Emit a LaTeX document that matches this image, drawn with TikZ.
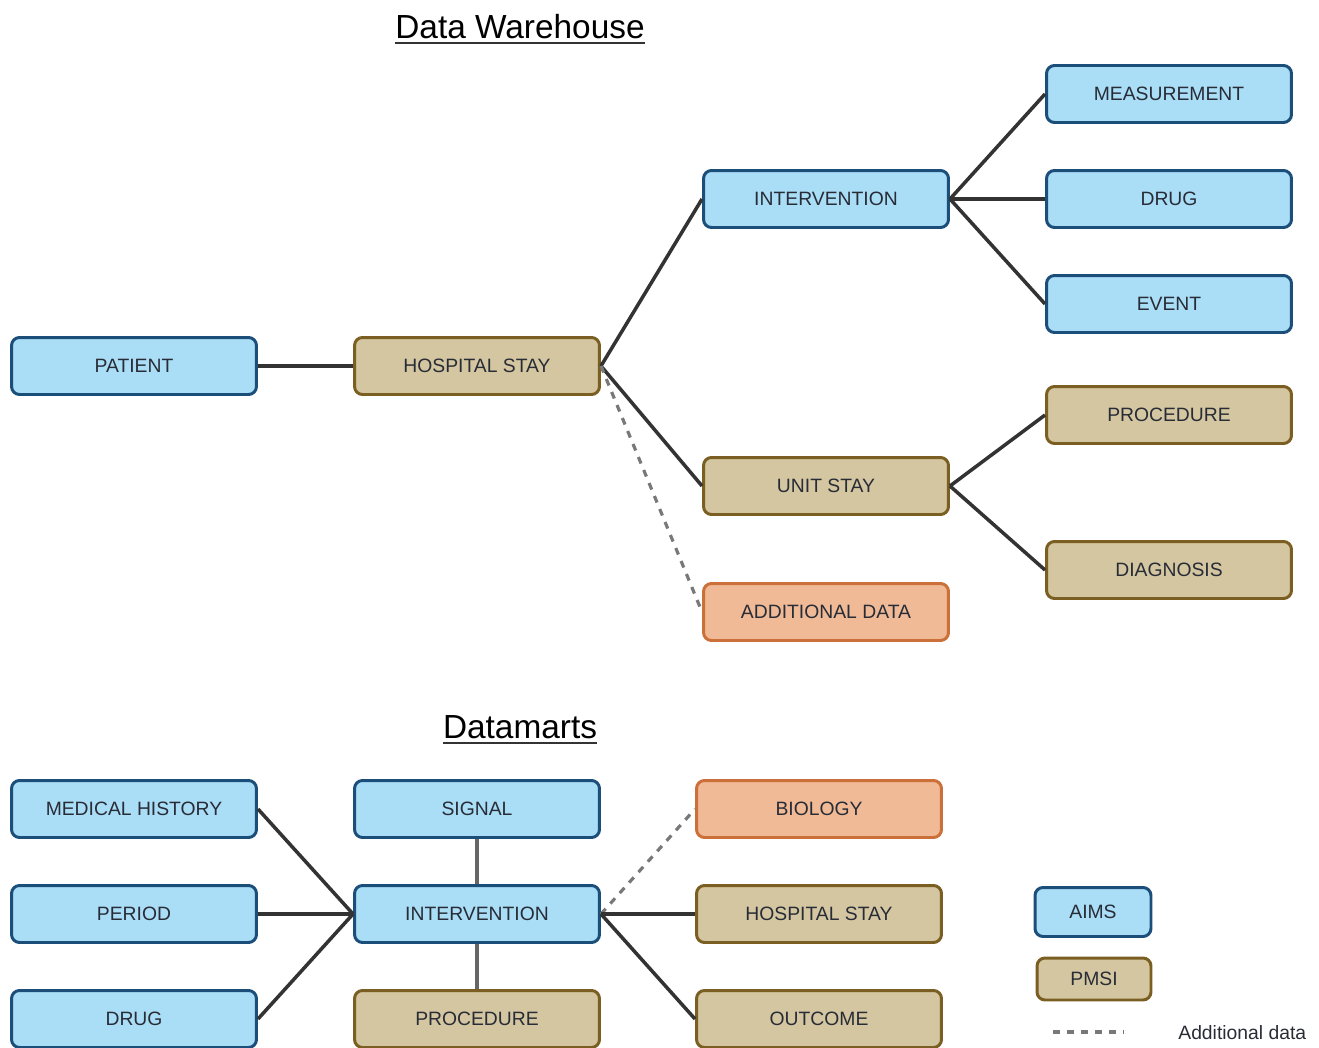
\documentclass[tikz,border=0pt]{standalone}
\usepackage{fontspec}
\setmainfont{Liberation Sans}
\definecolor{AimsFill}{RGB}{170,221,246}
\definecolor{AimsBorder}{RGB}{28,78,122}
\definecolor{PmsiFill}{RGB}{212,198,160}
\definecolor{PmsiBorder}{RGB}{122,94,34}
\definecolor{ExtraFill}{RGB}{240,186,150}
\definecolor{ExtraBorder}{RGB}{204,112,58}
\definecolor{LinkColor}{RGB}{51,51,51}
\definecolor{DashColor}{RGB}{120,120,120}
\definecolor{TextColor}{RGB}{40,44,54}
\usepackage{tikz}
\tikzstyle{tablebox} = [rectangle, rounded corners=0.16cm, line width=1.7pt, minimum width=4.9cm, minimum height=1.14cm, font=\fontsize{11}{13}\selectfont, text=TextColor]
\tikzstyle{aimsbox} = [tablebox, draw=AimsBorder, fill=AimsFill]
\tikzstyle{pmsibox} = [tablebox, draw=PmsiBorder, fill=PmsiFill]
\tikzstyle{extrabox} = [tablebox, draw=ExtraBorder, fill=ExtraFill]
\tikzstyle{relation} = [line width=2pt, LinkColor]
\tikzstyle{extrarel} = [line width=1.8pt, DashColor, dash pattern=on 4pt off 4pt]
\tikzstyle{heading} = [font=\fontsize{19}{22}\selectfont, inner sep=0pt, anchor=base, text=black]
\tikzstyle{underline} = [line width=1.1pt, black!80]

\begin{document}
\begin{tikzpicture}[x=0.02cm, y=-0.02cm]
    \useasboundingbox (0,0) rectangle (1319,1048);

    % Data warehouse
    \node[heading] (dwtitle) at (520,38) {Data Warehouse};
    \draw[underline] ([yshift=-2.6pt]dwtitle.base west) -- ([yshift=-2.6pt]dwtitle.base east);

    \node[aimsbox] (patient) at (134,366) {PATIENT};
    \node[pmsibox] (hstay) at (477,366) {HOSPITAL STAY};
    \node[aimsbox] (interv) at (826,199) {INTERVENTION};
    \node[pmsibox] (unitstay) at (826,486) {UNIT STAY};
    \node[extrabox] (adddata) at (826,612) {ADDITIONAL DATA};
    \node[aimsbox] (measure) at (1169,94) {MEASUREMENT};
    \node[aimsbox] (drug) at (1169,199) {DRUG};
    \node[aimsbox] (event) at (1169,304) {EVENT};
    \node[pmsibox] (proc) at (1169,415) {PROCEDURE};
    \node[pmsibox] (diag) at (1169,570) {DIAGNOSIS};

    \draw[relation] (patient.east) -- (hstay.west);
    \draw[relation] (hstay.east) -- (interv.west);
    \draw[relation] (hstay.east) -- (unitstay.west);
    \draw[extrarel] (hstay.east) -- (adddata.west);
    \foreach \t in {measure, drug, event}
        \draw[relation] (interv.east) -- (\t.west);
    \foreach \t in {proc, diag}
        \draw[relation] (unitstay.east) -- (\t.west);

    % Datamarts
    \node[heading] (dmtitle) at (520,738) {Datamarts};
    \draw[underline] ([yshift=-2.6pt]dmtitle.base west) -- ([yshift=-2.6pt]dmtitle.base east);

    \node[aimsbox] (medhist) at (134,809) {MEDICAL HISTORY};
    \node[aimsbox] (period) at (134,914) {PERIOD};
    \node[aimsbox] (mdrug) at (134,1019) {DRUG};
    \node[aimsbox] (signal) at (477,809) {SIGNAL};
    \node[aimsbox] (minterv) at (477,914) {INTERVENTION};
    \node[pmsibox] (mproc) at (477,1019) {PROCEDURE};
    \node[extrabox] (biology) at (819,809) {BIOLOGY};
    \node[pmsibox] (mhstay) at (819,914) {HOSPITAL STAY};
    \node[pmsibox] (outcome) at (819,1019) {OUTCOME};

    \foreach \t in {medhist, period, mdrug}
        \draw[relation] (\t.east) -- (minterv.west);
    \draw[relation, LinkColor!75] (signal.south) -- (minterv.north);
    \draw[relation, LinkColor!75] (minterv.south) -- (mproc.north);
    \draw[extrarel] (minterv.east) -- (biology.west);
    \draw[relation] (minterv.east) -- (mhstay.west);
    \draw[relation] (minterv.east) -- (outcome.west);

    % Legend
    \node[aimsbox, minimum width=2.32cm, minimum height=0.98cm] (legaims) at (1093,912) {AIMS};
    \node[pmsibox, minimum width=2.28cm, minimum height=0.84cm] (legpmsi) at (1094,979) {PMSI};
    \draw[extrarel] (1053,1032) -- (1124,1032);
    \node[anchor=base west, inner sep=0pt, text=TextColor, font=\fontsize{11}{13}\selectfont] (legtext) at (1178,1039) {Additional data};
\end{tikzpicture}
\end{document}
